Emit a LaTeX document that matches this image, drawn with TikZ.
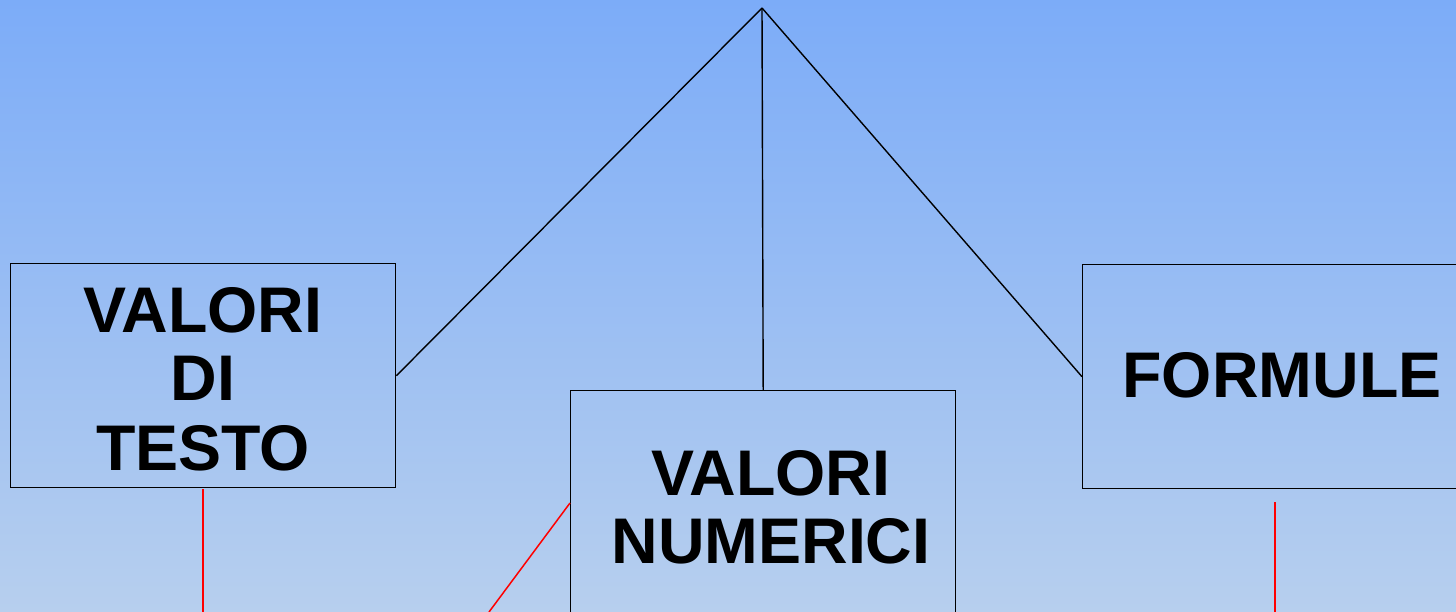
\documentclass[tikz,border=0pt]{standalone}
\usepackage{fontspec}
\setmainfont{Liberation Sans}
\definecolor{bgtop}{RGB}{124,172,248}
\definecolor{bgbot}{RGB}{183,207,238}
\begin{document}
\begin{tikzpicture}[x=1pt,y=-1pt,
  box/.style={draw=black,line width=1.4pt,minimum width=385pt,anchor=north west,inner sep=0pt},
  lbl/.style={font=\fontsize{64.5}{69}\selectfont\bfseries,anchor=base,inner sep=0pt},
  blk/.style={draw=black,line width=1.4pt},
  redl/.style={draw=red,line width=1.5pt}]
\useasboundingbox (0,0) rectangle (1456,612);
\clip (0,0) rectangle (1456,612);
\shade[top color=bgtop,bottom color=bgbot] (0,0) rectangle (1456,612);
\node[box,minimum height=224pt] (A) at (10,263) {};
\node[box,minimum height=300pt] (B) at (570,390) {};
\node[box,minimum width=420pt,minimum height=224pt] (C) at (1082,264) {};
\coordinate (apex) at (762,8);
\draw[blk] (apex) -- (A.east);
\draw[blk] (apex) -- (B.north);
\draw[blk] (apex) -- (C.west);
\node[lbl] (t1) at (203,332) {VALORI};
\node[lbl] (t2) at (203,400) {DI};
\node[lbl] (t3) at (203,470) {TESTO};
\node[lbl] (t4) at (771,495) {VALORI};
\node[lbl] (t5) at (771,563) {NUMERICI};
\node[lbl] (t6) at (1282,397) {FORMULE};
\coordinate (r1a) at (203,489);
\coordinate (r1b) at (203,612);
\coordinate (r2a) at (570,503);
\coordinate (r2b) at (489,612);
\coordinate (r3a) at (1275,502);
\coordinate (r3b) at (1275,612);
\draw[redl] (r1a) -- (r1b);
\draw[redl] (r2a) -- (r2b);
\draw[redl] (r3a) -- (r3b);
\end{tikzpicture}
\end{document}
